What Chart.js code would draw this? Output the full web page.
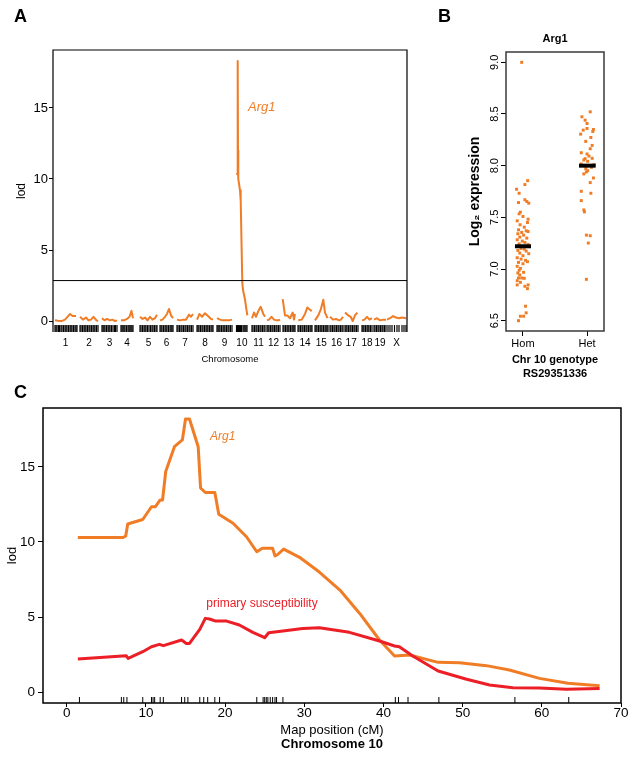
<!DOCTYPE html>
<html>
<head>
<meta charset="utf-8">
<script src="https://cdn.jsdelivr.net/npm/chart.js@4.4.0/dist/chart.umd.min.js"></script>
<style>
  body { margin: 0; background: #fff; }
  #wrap { position: relative; width: 638px; height: 758px; }
  canvas { position: absolute; }
</style>
</head>
<body>
<div id="wrap">
  <canvas id="chartA" width="420" height="372" style="left:0;top:0"></canvas>
  <canvas id="chartB" width="218" height="386" style="left:420px;top:0"></canvas>
  <canvas id="chartC" width="638" height="378" style="left:0;top:380px"></canvas>
</div>
<script>
// ---------- panel A: genome scan (genome position, lod) ----------
const chrNames = ["1", "2", "3", "4", "5", "6", "7", "8", "9", "10",
  "11", "12", "13", "14", "15", "16", "17", "18", "19", "X"];

const lodByChr = [
  [[2, 0.05], [5, 0.02], [8.5, 0.0], [12, 0.1], [14.5, 0.3], [17, 0.5], [19.5, 0.35], [23, 0.35]],
  [[27, 0.3], [30, 0.1], [33, 0.25], [35.5, 0.05], [38, 0.1], [40.5, 0.3], [43.5, 0.05], [45, 0.0]],
  [[49, 0.2], [51.5, 0.05], [54, 0.15], [57, 0.05], [59.5, 0.1], [62, 0.0], [64, 0.05]],
  [[68, 0.05], [71, 0.05], [74, 0.15], [76.5, 0.3], [78.5, 0.72], [80, 0.2]],
  [[87, 0.3], [89.5, 0.15], [92, 0.25], [94.5, 0.05], [97, 0.3], [99.5, 0.1], [102, 0.2], [104, 0.45]],
  [[107, 0.05], [109.5, 0.1], [112, 0.3], [114, 0.5], [116, 0.85], [118, 0.4], [120, 0.2]],
  [[124, 0.1], [127, 0.05], [130, 0.1], [133, 0.1], [136, 0.45], [138, 0.3], [140, 0.5]],
  [[144, 0.1], [146.5, 0.5], [149, 0.3], [152, 0.55], [155, 0.35], [158, 0.15], [160, 0.1]],
  [[164, 0.2], [167, 0.1], [170, 0.05], [173, 0.05], [176, 0.05], [179, 0.1]],
  [[183.5, 10.3], [184.7, 10.4], [184.7, 18.3], [185.0, 12.0], [185.3, 10.0], [187, 9.2], [187.7, 8.5],
   [189.3, 2.7], [190, 2.2], [192, 1.5], [194.3, 0.4]],
  [[199, 0.2], [201, 0.6], [203, 0.3], [205.3, 0.7], [207.7, 1.0], [210.3, 0.5], [212, 0.3]],
  [[214, 0.05], [216, 0.1], [218.5, 0.3], [221, 0.1], [223.5, 0.05], [225.5, 0.05], [227, 0.1]],
  [[229.7, 1.55], [232, 0.4], [234.3, 0.4], [237, 0.2], [239.7, 0.6], [241, 0.1], [242, 0.5]],
  [[245.3, 0.05], [248.7, 0.1], [252, 0.5], [254.3, 0.95], [257, 0.8], [258.7, 0.7]],
  [[262, 0.05], [265.3, 0.4], [267.7, 0.8], [270.3, 1.5], [272, 0.6], [274.5, 0.2]],
  [[277, 0.3], [280, 0.1], [283, 0.15], [286, 0.05], [288, 0.1], [290, 0.3]],
  [[292, 0.6], [295.3, 0.4], [297.7, 0.3], [299.7, 0.0], [302, 0.4], [304.3, 0.6]],
  [[309, 0.05], [311.5, 0.1], [314, 0.3], [316.5, 0.1], [319, 0.2]],
  [[321, 0.1], [324, 0.2], [327, 0.05], [330, 0.1], [333, 0.1]],
  [[334, 0.1], [337, 0.2], [340, 0.35], [343, 0.25], [346, 0.2], [349, 0.25], [353, 0.2]]
];

const markersA = [
  2, 3, 4, 5.5, 6.5, 8, 9, 10.5, 12, 13, 14, 15.5, 17, 18, 19, 20.5, 22, 23, 24,
  27, 28, 29.5, 31, 32, 33, 34.5, 36, 37, 38.5, 40, 41, 42, 43.5, 45,
  49, 50, 51, 52, 53.5, 55, 56, 57, 58.5, 60, 61.5, 62.5, 64,
  68, 69, 70, 71, 72, 73.5, 75, 76, 77, 78, 79, 80,
  87, 88, 89.5, 91, 92, 93, 94.5, 96, 97.5, 99, 100, 101.5, 103, 104,
  107, 108, 109, 110.5, 112, 113, 114, 115.5, 117, 118, 119, 120,
  124, 125, 126.5, 128, 129, 130.5, 132, 133, 134.5, 136, 137, 138.5, 140,
  144, 145, 146, 147.5, 149, 150, 151.5, 153, 154, 155, 156.5, 158, 159, 160,
  164, 165, 166, 167, 168.5, 170, 171, 172, 173.5, 175, 176, 177.5, 179,
  183.5, 184.5, 185.5, 186.5, 187.5, 188.5, 190, 191, 192, 193, 194,
  199, 200, 201.5, 203, 204, 205.5, 207, 208, 209.5, 211, 212,
  214, 215, 216, 217.5, 219, 220, 221.5, 223, 224, 225.5, 227,
  230, 231, 232.5, 234, 235, 236, 237.5, 239, 240, 241, 242,
  245, 246, 247.5, 249, 250, 251.5, 253, 254, 255.5, 257, 258, 259,
  262, 263, 264, 265.5, 267, 268, 269, 270.5, 272, 273, 274, 275,
  277, 278, 279.5, 281, 282, 283.5, 285, 286, 287.5, 289, 290,
  292, 293, 294, 295.5, 297, 298, 299.5, 301, 302, 303.5, 305,
  309, 310, 311, 312.5, 314, 315, 316, 317.5, 319,
  321, 322, 323.5, 325, 326, 327.5, 329, 330, 331.5, 333,
  335, 337, 339, 341.5, 344, 346, 349, 351, 353
];

const lodThreshold = 2.85;
const lodTicks = [0, 5, 10, 15];

// ---------- panel B: expression by genotype ----------
const genotypes = ["Hom", "Het"];
const exprTicks = [6.5, 7.0, 7.5, 8.0, 8.5, 9.0];
const genotypeMeans = [7.22, 8.0];

const homX = [0.98, 1.073, 1.03, 0.90, 0.94, 1.03, 1.06, 1.09, 0.93, 0.96, 0.94, 1.0, 1.08, 0.91, 1.07,
  0.955, 1.02, 0.93, 1.05, 1.08, 0.98, 0.92, 1.01, 0.95, 1.06, 0.91, 0.99, 1.03, 0.94, 1.08,
  0.97, 1.02, 0.92, 1.05, 0.95, 1.09, 1.0, 0.91, 0.97, 1.04, 0.93, 1.0, 1.07, 0.91, 0.96,
  0.94, 0.92, 1.01, 0.95, 0.93, 0.98, 1.02, 0.91, 0.96, 0.91, 1.03, 1.08, 1.07, 1.04, 1.05,
  1.01, 0.96, 0.93];
const homY = [9.0, 7.855, 7.817, 7.772, 7.733, 7.67, 7.653, 7.637, 7.643, 7.55, 7.534, 7.508, 7.482, 7.466, 7.45,
  7.428, 7.405, 7.379, 7.37, 7.363, 7.354, 7.341, 7.328, 7.309, 7.299, 7.283, 7.27, 7.257, 7.244, 7.238,
  7.199, 7.193, 7.18, 7.174, 7.154, 7.148, 7.129, 7.109, 7.096, 7.084, 7.064, 7.051, 7.071, 7.026, 7.006,
  6.987, 6.961, 6.968, 6.942, 6.913, 6.913, 6.91, 6.887, 6.871, 6.846, 6.833, 6.846, 6.81, 6.64, 6.576,
  6.543, 6.543, 6.50];

const hetX = [2.05, 1.92, 1.97, 2.0, 2.10, 2.09, 1.94, 1.90, 2.0, 2.06, 1.98, 2.08, 2.05, 1.91, 2.0,
  2.03, 2.08, 1.97, 1.95, 2.01, 1.91, 2.11, 2.07, 1.98, 2.01, 1.99, 1.95, 2.10, 2.05, 1.91,
  2.06, 1.91, 1.95, 1.96, 1.99, 2.05, 2.02, 1.99];
const hetY = [8.521, 8.473, 8.44, 8.408, 8.35, 8.331, 8.344, 8.305, 8.36, 8.273, 8.235, 8.196, 8.164, 8.125, 8.113,
  8.093, 8.071, 8.068, 8.055, 8.042, 8.016, 8.01, 7.984, 7.971, 7.952, 7.939, 7.92, 7.881, 7.836, 7.752,
  7.733, 7.662, 7.572, 7.553, 7.328, 7.322, 7.251, 6.90];

// ---------- panel C: chromosome 10 (cM, lod) ----------
const mapTicks = [0, 10, 20, 30, 40, 50, 60, 70];

const arg1Pos = [1.4, 7.1, 7.45, 7.7, 9.6, 10.7, 11.2, 11.8, 12.1, 12.5, 13.6, 14.6, 15.0, 15.5, 16.6, 16.9,
  17.5, 18.7, 19.2, 21.0, 22.7, 24.0, 24.7, 26.0, 26.3, 26.6, 27.4, 29.4, 31.9, 34.5, 37.0, 39.5,
  41.4, 43.3, 46.9, 49.6, 53.0, 55.9, 59.7, 63.3, 67.3];
const arg1Lod = [10.3, 10.3, 10.4, 11.2, 11.5, 12.35, 12.35, 12.8, 12.8, 14.7, 16.35, 16.8, 18.2, 18.2, 16.35, 13.6,
  13.3, 13.3, 11.85, 11.25, 10.35, 9.35, 9.58, 9.58, 9.07, 9.15, 9.53, 8.98, 8.0, 6.8, 5.24, 3.47,
  2.4, 2.47, 1.98, 1.96, 1.76, 1.47, 0.91, 0.58, 0.42];

const suscPos = [1.4, 7.5, 7.75, 9.6, 10.7, 11.7, 12.2, 14.5, 15.1, 15.5, 16.8, 17.5, 18.05, 18.8, 20.2, 21.8,
  23.5, 25.0, 25.5, 27.3, 29.8, 31.9, 35.7, 39.5, 41.4, 42.0, 43.7, 46.9, 50.5, 53.4, 56.35, 59.7,
  63.1, 67.3];
const suscLod = [2.2, 2.42, 2.24, 2.69, 3.02, 3.18, 3.09, 3.47, 3.24, 3.24, 4.18, 4.91, 4.87, 4.73, 4.73, 4.47,
  3.98, 3.62, 3.95, 4.07, 4.24, 4.29, 3.98, 3.4, 3.07, 3.02, 2.4, 1.4, 0.85, 0.47, 0.29, 0.27,
  0.18, 0.24];

const markersC = [1.6, 6.9, 7.2, 7.6, 9.6, 10.7, 10.9, 11.1, 11.8, 12.2, 14.5, 14.9, 15.3, 16.8, 17.3, 17.8,
  18.7, 19.3, 24.0, 24.8, 25.0, 25.2, 25.4, 25.7, 26.0, 26.3, 26.5, 27.3, 41.5, 41.9, 43.1, 47.0,
  56.6, 63.4];

// ---------- drawing ----------
const ORANGE = "rgb(240,125,38)";
const RED = "rgb(236,30,38)";
const FONT = "'Liberation Sans', Arial, Helvetica, sans-serif";

Chart.defaults.font.family = FONT;
Chart.defaults.color = "#000";

// frame around the plot area; sides is the list of edges to stroke
function framePlugin(sides, color, width) {
  return {
    id: "frame",
    afterDatasetsDraw(chart) {
      const { ctx, chartArea: a } = chart;
      ctx.save();
      ctx.strokeStyle = color;
      ctx.lineWidth = width;
      ctx.beginPath();
      if (sides === "open") {
        ctx.moveTo(a.left, a.bottom);
        ctx.lineTo(a.left, a.top);
        ctx.lineTo(a.right, a.top);
        ctx.lineTo(a.right, a.bottom);
      } else {
        ctx.rect(a.left, a.top, a.right - a.left, a.bottom - a.top);
      }
      ctx.stroke();
      ctx.restore();
    }
  };
}

// free text (panel letters, curve names, extra titles)
function textPlugin(items) {
  return {
    id: "texts",
    afterDraw(chart) {
      const ctx = chart.ctx;
      items.forEach((t) => {
        ctx.save();
        ctx.font = t.font;
        ctx.fillStyle = t.color || "#000";
        ctx.textAlign = t.align || "left";
        ctx.textBaseline = "middle";
        ctx.fillText(t.text, t.x, t.y);
        ctx.restore();
      });
    }
  };
}

const noPlugins = { legend: { display: false }, tooltip: { enabled: false } };

// panel A
const scanPoints = [];
const chrMid = [];
lodByChr.forEach((chr) => {
  chr.forEach(([x, y]) => scanPoints.push({ x: x, y: y }));
  scanPoints.push({ x: chr[chr.length - 1][0] + 0.5, y: null });
  chrMid.push((chr[0][0] + chr[chr.length - 1][0]) / 2);
});

new Chart(document.getElementById("chartA"), {
  type: "scatter",
  data: {
    datasets: [
      {
        data: [{ x: 0, y: lodThreshold }, { x: 354, y: lodThreshold }],
        showLine: true, borderColor: "#000", borderWidth: 1, pointRadius: 0
      },
      {
        data: scanPoints,
        showLine: true, spanGaps: false, borderColor: ORANGE, borderWidth: 2,
        pointRadius: 0, borderJoinStyle: "round"
      },
      {
        data: markersA.map((x) => ({ x: x, y: -0.53 })),
        pointStyle: "line", rotation: 90, pointRadius: 3.5,
        borderColor: "#000", borderWidth: 1.2
      }
    ]
  },
  options: {
    responsive: false, animation: false, devicePixelRatio: 1,
    layout: { padding: { left: 0, top: 50, right: 13, bottom: 0 } },
    plugins: noPlugins,
    scales: {
      x: {
        type: "linear", min: 0, max: 354,
        border: { display: false },
        grid: { display: false, drawTicks: false },
        afterBuildTicks: (s) => { s.ticks = chrMid.map((v) => ({ value: v })); },
        afterFit: (s) => { s.height = 40; },
        ticks: {
          autoSkip: false, maxRotation: 0, padding: 6,
          font: { size: 10, lineHeight: 1 },
          callback: (v, i) => chrNames[i]
        },
        title: {
          display: true, text: "Chromosome",
          font: { size: 9.5, lineHeight: 1 }, padding: { top: 0, bottom: 8 }
        }
      },
      y: {
        min: -0.77, max: 19.08,
        border: { display: false },
        grid: { drawOnChartArea: false, tickLength: 4, color: "#000" },
        afterBuildTicks: (s) => { s.ticks = lodTicks.map((v) => ({ value: v })); },
        afterFit: (s) => { s.width = 53; },
        ticks: { padding: 1, font: { size: 13, lineHeight: 1 } },
        title: {
          display: true, text: "lod",
          font: { size: 12, lineHeight: 1 }, padding: { top: 16, bottom: 0 }
        }
      }
    }
  },
  plugins: [
    framePlugin("open", "#000", 1.2),
    textPlugin([
      { text: "A", x: 14, y: 17, font: "bold 18px " + FONT },
      { text: "Arg1", x: 248, y: 107, font: "italic 13px " + FONT, color: ORANGE }
    ])
  ]
});

// panel B
new Chart(document.getElementById("chartB"), {
  type: "scatter",
  data: {
    datasets: [
      {
        data: [{ x: 0.875, y: genotypeMeans[0] }, { x: 1.125, y: genotypeMeans[0] }],
        showLine: true, borderColor: "#000", borderWidth: 4, pointRadius: 0
      },
      {
        data: [{ x: 1.875, y: genotypeMeans[1] }, { x: 2.135, y: genotypeMeans[1] }],
        showLine: true, borderColor: "#000", borderWidth: 4, pointRadius: 0
      },
      {
        data: homX.map((x, i) => ({ x: x, y: homY[i] })),
        pointStyle: "rect", pointRadius: 2.1, borderWidth: 0, backgroundColor: ORANGE
      },
      {
        data: hetX.map((x, i) => ({ x: x, y: hetY[i] })),
        pointStyle: "rect", pointRadius: 2.1, borderWidth: 0, backgroundColor: ORANGE
      }
    ]
  },
  options: {
    responsive: false, animation: false, devicePixelRatio: 1,
    layout: { padding: { left: 0, top: 52, right: 34, bottom: 0 } },
    plugins: noPlugins,
    scales: {
      x: {
        type: "linear", min: 0.735, max: 2.265,
        border: { display: false },
        grid: { drawOnChartArea: false, tickLength: 5, color: "#000" },
        afterBuildTicks: (s) => { s.ticks = [1, 2].map((v) => ({ value: v })); },
        afterFit: (s) => { s.height = 55; },
        ticks: {
          autoSkip: false, maxRotation: 0, padding: 2.5,
          font: { size: 11, lineHeight: 1 },
          callback: (v, i) => genotypes[i]
        },
        title: {
          display: true, text: ["Chr 10 genotype", "RS29351336"],
          font: { size: 11, weight: "bold", lineHeight: 1.27 }, padding: { top: 0, bottom: 5 }
        }
      },
      y: {
        min: 6.40, max: 9.10,
        border: { display: false },
        grid: { drawOnChartArea: false, tickLength: 5, color: "#000" },
        afterBuildTicks: (s) => { s.ticks = exprTicks.map((v) => ({ value: v })); },
        afterFit: (s) => { s.width = 86; },
        ticks: {
          minRotation: 90, maxRotation: 90, crossAlign: "center", padding: -2,
          font: { size: 11, lineHeight: 1 },
          callback: (v) => v.toFixed(1)
        },
        title: {
          display: true, text: "Log\u2082 expression",
          font: { size: 14, weight: "bold", lineHeight: 1 }, padding: { top: 48, bottom: 0 }
        }
      }
    }
  },
  plugins: [
    framePlugin("box", "#3a3a3a", 1.5),
    textPlugin([
      { text: "B", x: 18, y: 17, font: "bold 18px " + FONT },
      { text: "Arg1", x: 135, y: 39, font: "bold 11px " + FONT, align: "center" }
    ])
  ]
});

// panel C
new Chart(document.getElementById("chartC"), {
  type: "scatter",
  data: {
    datasets: [
      {
        data: suscPos.map((x, i) => ({ x: x, y: suscLod[i] })),
        showLine: true, borderColor: RED, borderWidth: 3, pointRadius: 0, borderJoinStyle: "round"
      },
      {
        data: arg1Pos.map((x, i) => ({ x: x, y: arg1Lod[i] })),
        showLine: true, borderColor: ORANGE, borderWidth: 3, pointRadius: 0, borderJoinStyle: "round"
      },
      {
        data: markersC.map((x) => ({ x: x, y: -0.53 })),
        pointStyle: "line", rotation: 90, pointRadius: 3,
        borderColor: "#000", borderWidth: 1
      }
    ]
  },
  options: {
    responsive: false, animation: false, devicePixelRatio: 1,
    layout: { padding: { left: 0, top: 28, right: 17, bottom: 0 } },
    plugins: noPlugins,
    scales: {
      x: {
        type: "linear", min: -3, max: 70,
        border: { display: false },
        grid: { drawOnChartArea: false, tickLength: 4, color: "#000" },
        afterBuildTicks: (s) => { s.ticks = mapTicks.map((v) => ({ value: v })); },
        afterFit: (s) => { s.height = 55; },
        ticks: { autoSkip: false, maxRotation: 0, padding: 0, font: { size: 13.5, lineHeight: 1 } },
        title: {
          display: true, text: "Map position (cM)",
          font: { size: 13, lineHeight: 1 }, padding: { top: 0, bottom: 21.5 }
        }
      },
      y: {
        min: -0.73, max: 18.93,
        border: { display: false },
        grid: { drawOnChartArea: false, tickLength: 5, color: "#000" },
        afterBuildTicks: (s) => { s.ticks = lodTicks.map((v) => ({ value: v })); },
        afterFit: (s) => { s.width = 43; },
        ticks: { padding: 3, font: { size: 13.5, lineHeight: 1 } },
        title: {
          display: true, text: "lod",
          font: { size: 13, lineHeight: 1 }, padding: { top: 6, bottom: 0 }
        }
      }
    }
  },
  plugins: [
    framePlugin("box", "#000", 1.5),
    textPlugin([
      { text: "C", x: 14, y: 13, font: "bold 18px " + FONT },
      { text: "Arg1", x: 210, y: 57, font: "italic 12px " + FONT, color: ORANGE },
      { text: "primary susceptibility", x: 262, y: 224, font: "12px " + FONT, color: RED, align: "center" },
      { text: "Chromosome 10", x: 332, y: 364.5, font: "bold 13px " + FONT, align: "center" }
    ])
  ]
});
</script>
</body>
</html>
